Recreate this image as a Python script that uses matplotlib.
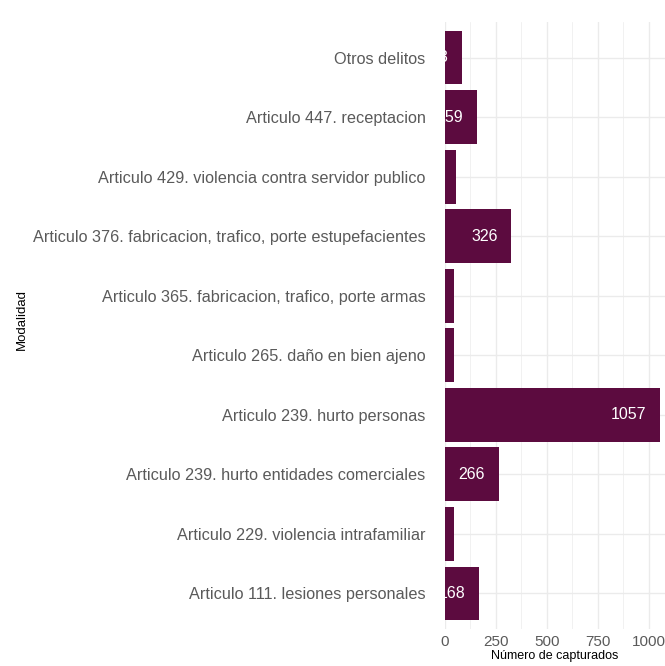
import numpy as np
import matplotlib.pyplot as plt

plt.rcParams['font.family'] = ['Liberation Sans', 'DejaVu Sans']

# datos (de abajo hacia arriba)
modalidades = [
    'Articulo 111. lesiones personales',
    'Articulo 229. violencia intrafamiliar',
    'Articulo 239. hurto entidades comerciales',
    'Articulo 239. hurto personas',
    'Articulo 265. daño en bien ajeno',
    'Articulo 365. fabricacion, trafico, porte armas',
    'Articulo 376. fabricacion, trafico, porte estupefacientes',
    'Articulo 429. violencia contra servidor publico',
    'Articulo 447. receptacion',
    'Otros delitos',
]
capturados = [168, 44, 266, 1057, 45, 46, 326, 52, 159, 83]

bar_color = '#5c0b3f'
grid_color = '#ebebeb'
text_gray = '#5a5a5a'

fig = plt.figure(figsize=(6.65, 6.66), dpi=100)
ax = fig.add_axes([445 / 665, 1 - 629 / 666, 1 - 445 / 665, (629 - 22) / 666])

y = np.arange(len(modalidades))
ax.barh(y, capturados, height=0.9, color=bar_color, zorder=2)

# etiquetas dentro de la barra (recortadas por el panel);
# en las barras muy cortas la etiqueta queda fuera del panel y no se ve
for yi, v in zip(y, capturados):
    if v < 60:
        continue
    t = ax.annotate(str(v), xy=(v, yi), xytext=(-10, 0), textcoords='offset points',
                    ha='right', va='center', color='white', fontsize=11.5,
                    annotation_clip=False, zorder=3)
    t.set_clip_on(True)
    t.set_clip_box(ax.bbox)

ax.set_xlim(0, 1081)
ax.set_ylim(-0.6, len(modalidades) - 1 + 0.6)
ax.set_yticks(y)
ax.set_yticklabels(modalidades)
ax.set_xticks([0, 250, 500, 750, 1000])
ax.set_xticks([125, 375, 625, 875], minor=True)

ax.grid(True, which='major', color=grid_color, linewidth=1.0, zorder=0)
ax.grid(True, which='minor', axis='x', color=grid_color, linewidth=0.5, zorder=0)
ax.set_axisbelow(True)
for s in ax.spines.values():
    s.set_visible(False)
ax.tick_params(axis='both', which='both', length=0, colors=text_gray)
ax.tick_params(axis='y', labelsize=11.7, pad=14)
ax.tick_params(axis='x', labelsize=11, pad=4)

ax.set_xlabel('Número de capturados', fontsize=9, labelpad=1)
fig.text(0.033, 0.52, 'Modalidad', rotation=90, ha='center', va='center', fontsize=9.5)

fig.savefig('out.png', dpi=100)
